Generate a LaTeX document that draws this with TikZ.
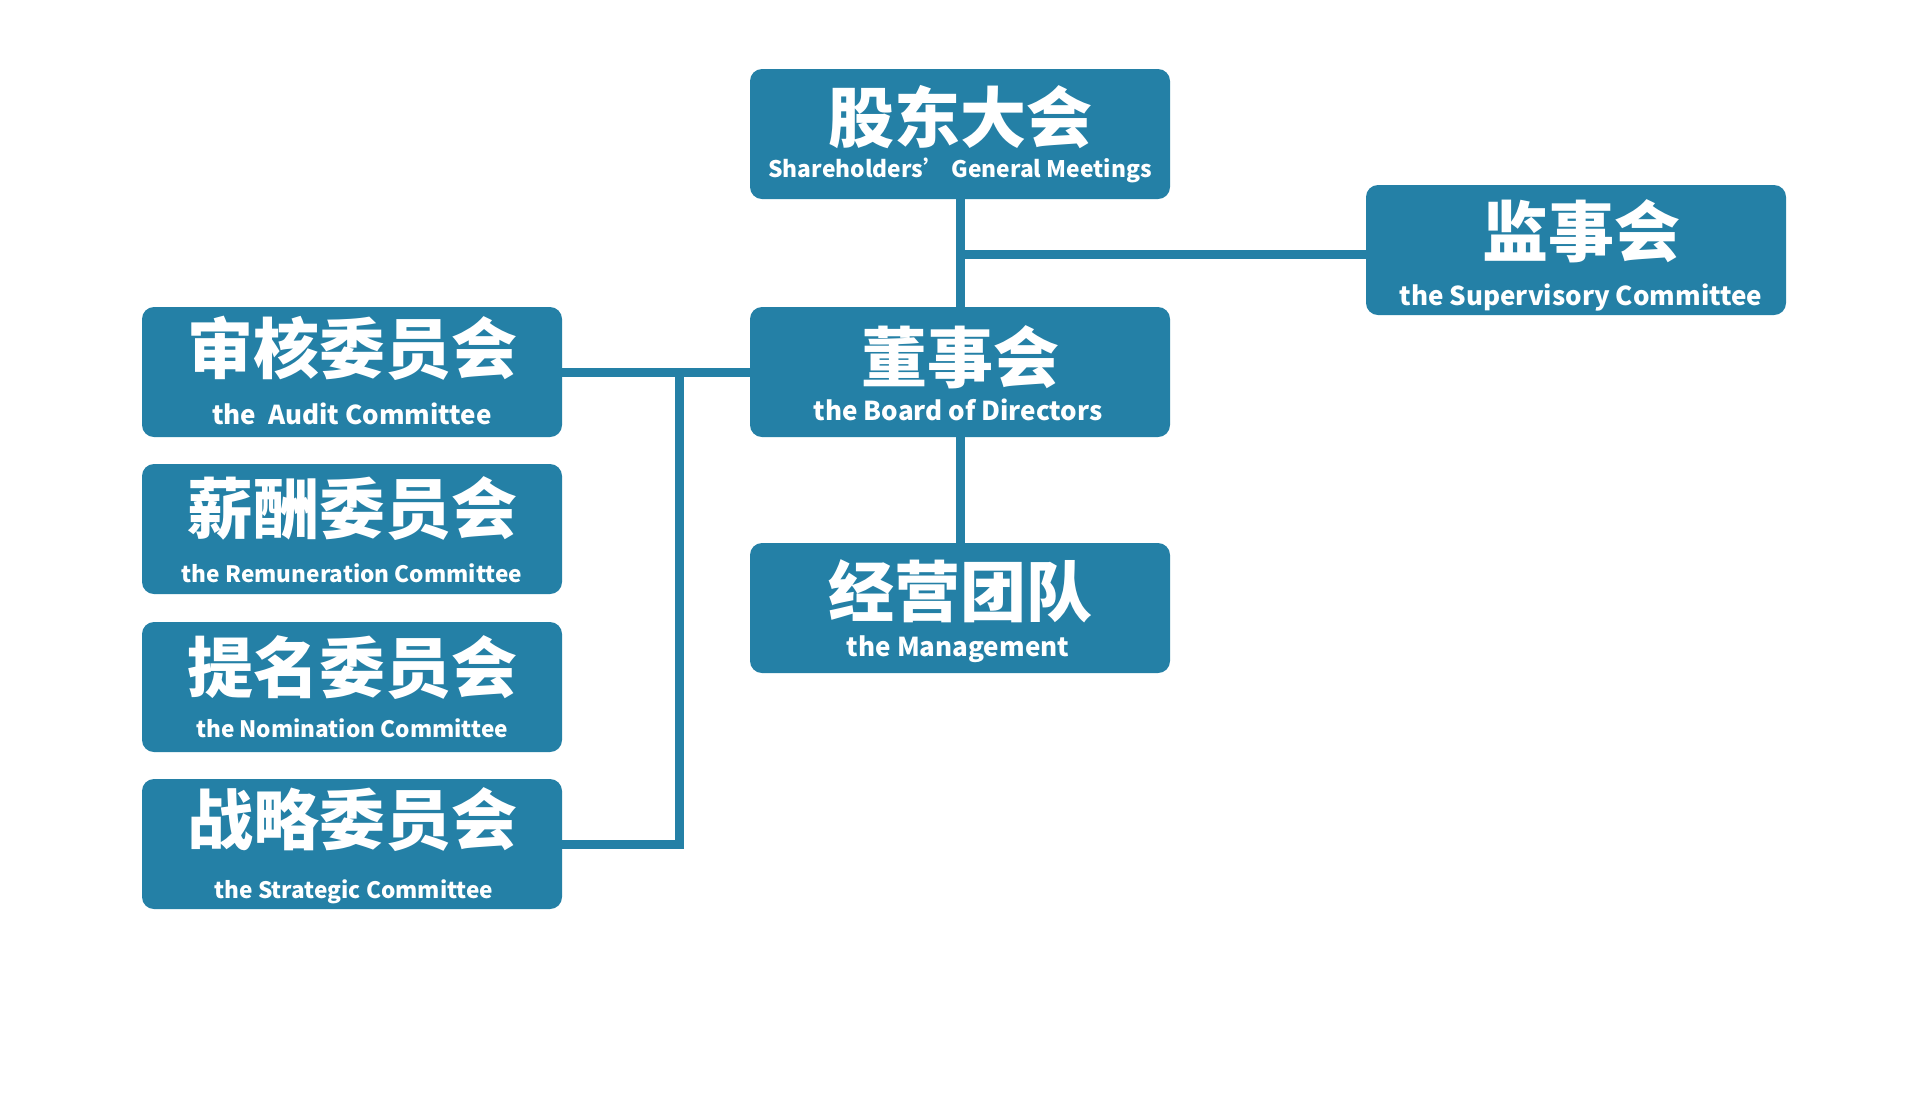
\documentclass[tikz,border=0pt]{standalone}
\usepackage{fontspec}
\newfontfamily\cjk{Noto Sans CJK SC}
\usepackage{tikz}
\usetikzlibrary{positioning, calc}
\definecolor{boardblue}{RGB}{36, 128, 166}
\tikzset{
  orgbox/.style={rectangle, fill=boardblue, rounded corners=6pt, minimum width=210pt, minimum height=65pt, inner sep=0pt},
  cntext/.style={text=white, font=\cjk\bfseries\fontsize{33pt}{33pt}\selectfont, inner sep=0pt},
  entext/.style={text=white, font=\cjk\bfseries\fontsize{#1}{#1}\selectfont, inner sep=0pt, anchor=base},
  entext/.default=13pt,
  orgline/.style={draw=boardblue, line width=4.5pt},
}

\begin{document}
\begin{tikzpicture}[x=0.5pt, y=-0.5pt]
\fill[white] (0,0) rectangle (1920,1105);
\useasboundingbox (0,0) rectangle (1920,1105);
% boxes
\node[orgbox] (share) at (960,134) {};
\node[orgbox] (sup) at (1576,250) {};
\node[orgbox] (board) at (960,372) {};
\node[orgbox] (mgmt) at (960,608) {};
\node[orgbox] (audit) at (352,372) {};
\node[orgbox] (remun) at (352,529) {};
\node[orgbox] (nomin) at (352,687) {};
\node[orgbox] (strat) at (352,844) {};
% texts
\node[cntext] (share-cn) at ($(share.north)+(0,48)$) {股东大会};
\node[entext=11.4pt] (share-en) at ($(share.south)+(0,-22)$) {Shareholders’ General Meetings};
\node[cntext] (sup-cn) at ($(sup.north)+(5,47)$) {监事会};
\node[entext] (sup-en) at ($(sup.south)+(5,-10)$) {the Supervisory Committee};
\node[cntext] (board-cn) at ($(board.north)+(0,51)$) {董事会};
\node[entext] (board-en) at ($(board.south)+(-2,-17)$) {the Board of Directors};
\node[cntext] (mgmt-cn) at ($(mgmt.north)+(0,49)$) {经营团队};
\node[entext] (mgmt-en) at ($(mgmt.south)+(-2,-17)$) {the Management};
\node[cntext] (audit-cn) at ($(audit.north)+(0,42)$) {审核委员会};
\node[entext] (audit-en) at ($(audit.south)+(0,-13)$) {the\ \ Audit Committee};
\node[cntext] (remun-cn) at ($(remun.north)+(0,45)$) {薪酬委员会};
\node[entext=11.3pt] (remun-en) at ($(remun.south)+(0,-12)$) {the Remuneration Committee};
\node[cntext] (nomin-cn) at ($(nomin.north)+(0,46)$) {提名委员会};
\node[entext=11.3pt] (nomin-en) at ($(nomin.south)+(0,-15)$) {the Nomination Committee};
\node[cntext] (strat-cn) at ($(strat.north)+(0,41)$) {战略委员会};
\node[entext=11.3pt] (strat-en) at ($(strat.south)+(2,-11)$) {the Strategic Committee};
% connectors
\coordinate (supjoin) at (960,254);
\coordinate (bustop) at (679,372);
\draw[orgline] (share) -- (board);
\draw[orgline] (supjoin) -- (sup.west |- supjoin);
\draw[orgline] (board) -- (mgmt);
\draw[orgline] (audit) -- (board);
\draw[orgline] (bustop) |- (strat.east);
\end{tikzpicture}
\end{document}
